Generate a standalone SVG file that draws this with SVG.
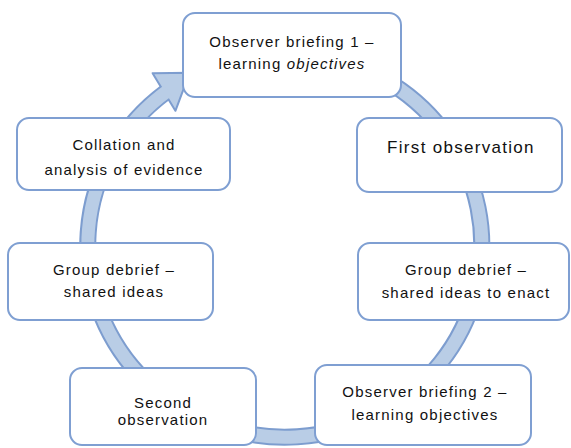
<svg xmlns="http://www.w3.org/2000/svg" width="571" height="448" viewBox="0 0 571 448">
<style>
.box{fill:#ffffff;stroke:#7f9fd2;stroke-width:2}
.t{font-family:"Liberation Sans",Arial,sans-serif;font-size:15px;fill:#111111;text-anchor:middle;letter-spacing:1.2px}
.big{font-size:17px;letter-spacing:1.3px}
.bandO{fill:none;stroke:#7d9dcf;stroke-width:17}
.bandI{fill:none;stroke:#b9cde6;stroke-width:13}
</style>
<rect width="571" height="448" fill="#ffffff"/>
<g id="connectors">
<path class="bandO" d="M383.5 79 A197 192 0 1 1 165 92.7"/>
<polygon points="152.6,73.2 189.6,72.8 175.4,110.8" fill="#b9cde6" stroke="#7d9dcf" stroke-width="2" stroke-linejoin="round"/>
<path class="bandI" d="M383.5 79 A197 192 0 1 1 168 90.6"/>
</g>
<g id="node1">
<rect class="box" x="183" y="13" width="218" height="84" rx="12"/>
<text class="t" x="292" y="47">Observer briefing 1 –</text>
<text class="t" x="292" y="69">learning <tspan font-style="italic">objectives</tspan></text>
</g>
<g id="node2">
<rect class="box" x="357" y="118" width="205" height="74" rx="12"/>
<text class="t big" x="461" y="153">First observation</text>
</g>
<g id="node3">
<rect class="box" x="358" y="243" width="211" height="77" rx="12"/>
<text class="t" x="466" y="275">Group debrief –</text>
<text class="t" x="466" y="298">shared ideas to enact</text>
</g>
<g id="node4">
<rect class="box" x="315" y="365" width="216" height="80" rx="12"/>
<text class="t" x="425" y="397">Observer briefing 2 –</text>
<text class="t" x="425" y="420">learning objectives</text>
</g>
<g id="node5">
<rect class="box" x="70" y="368" width="186" height="77" rx="12"/>
<text class="t" x="163" y="408">Second</text>
<text class="t" x="163" y="425">observation</text>
</g>
<g id="node6">
<rect class="box" x="8" y="243" width="205" height="77" rx="12"/>
<text class="t" x="114" y="275">Group debrief –</text>
<text class="t" x="114" y="297">shared ideas</text>
</g>
<g id="node7">
<rect class="box" x="17" y="118" width="213" height="72" rx="12"/>
<text class="t" x="124" y="150">Collation and</text>
<text class="t" x="124" y="175">analysis of evidence</text>
</g>
</svg>
